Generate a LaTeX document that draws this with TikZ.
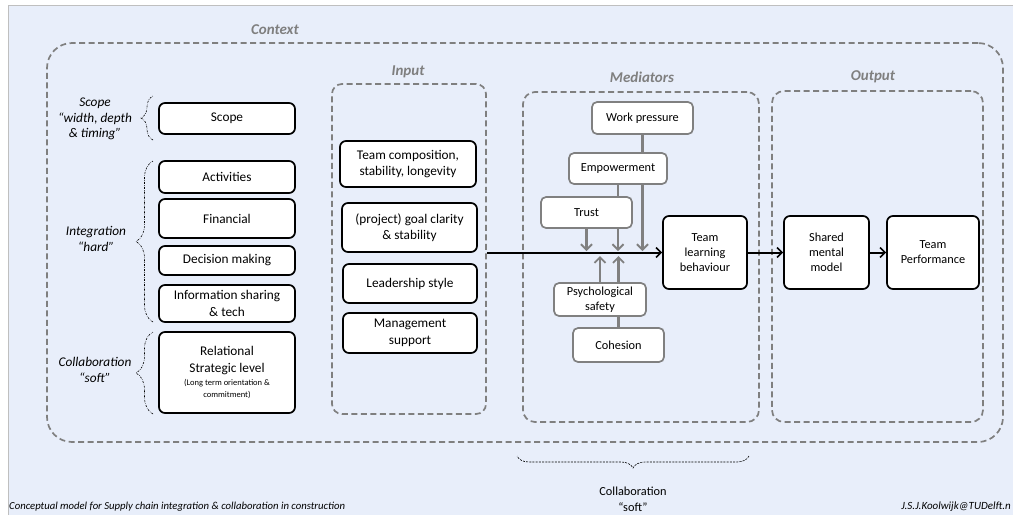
\documentclass[tikz,border=0pt]{standalone}
\usepackage{fontspec}
\setmainfont{Carlito}
\usetikzlibrary{arrows.meta,decorations.pathreplacing}
\definecolor{bg}{HTML}{E8EEFA}
\definecolor{dgray}{HTML}{7F7F7F}
\definecolor{mgray}{HTML}{808080}
\definecolor{edge}{HTML}{BFBFBF}
\begin{document}
\begin{tikzpicture}[x=1pt,y=-1pt,
  blackbox/.style={draw=black, line width=1.7pt, fill=white, rounded corners=6pt, align=center,
    font=\fontsize{13.3}{16.5}\selectfont, inner sep=0pt},
  graybox/.style={draw=mgray, line width=1.7pt, fill=white, rounded corners=5pt, align=center,
    font=\fontsize{12.3}{14.5}\selectfont, inner sep=0pt},
  frame/.style={draw=dgray, line width=1.7pt, dash pattern=on 6pt off 3.5pt, inner sep=0pt},
  title/.style={text=dgray, font=\bfseries\itshape\fontsize{15}{17}\selectfont},
  sidelabel/.style={align=center, font=\itshape\fontsize{13.3}{15.8}\selectfont},
  bracedeco/.style={decorate, decoration={brace, amplitude=#1}, line width=0.6pt,
    dash pattern=on 2pt off 1.2pt on 0.5pt off 1.2pt},
  mainarrow/.style={draw=black, line width=2pt, -{Straight Barb[length=5pt,width=10pt,line width=1.6pt]}},
  grayarrow/.style={draw=mgray, line width=2.3pt, -{Straight Barb[length=5.5pt,width=11pt,line width=1.9pt]}},
  grayline/.style={draw=mgray, line width=2.3pt},
]
\useasboundingbox (0,0) rectangle (1013,515);
% background
\fill[white] (0,0) rectangle (1013,515);
\fill[bg] (8,5) rectangle (1013,515);
\draw[edge, line width=1pt] (8,515) -- (8,5) -- (1013,5);

% frames
\node[frame, rounded corners=25pt, minimum width=956pt, minimum height=399pt] (context) at (525,242.5) {};
\node[title] (contextlbl) at (275,30) {Context};
\node[frame, rounded corners=10pt, fill=bg, minimum width=154pt, minimum height=330pt] (inframe) at (409,249) {};
\node[title] (inlbl) at (408,72) {Input};
\node[frame, rounded corners=12pt, fill=bg, minimum width=236pt, minimum height=330pt] (medframe) at (641,257) {};
\node[title] (medlbl) at (642,77) {Mediators};
\node[frame, rounded corners=12pt, fill=bg, minimum width=211pt, minimum height=331pt] (outframe) at (877.5,256.5) {};
\node[title] (outlbl) at (873,77) {Output};

% left column
\node[blackbox, minimum width=136pt, minimum height=31pt] (scope) at (227,118.5) {Scope};
\node[blackbox, minimum width=136pt, minimum height=32pt] (act) at (227,177) {Activities};
\node[blackbox, minimum width=136pt, minimum height=39pt] (fin) at (227,218.5) {Financial};
\node[blackbox, minimum width=136pt, minimum height=29pt] (dec) at (227,260.5) {Decision making};
\node[blackbox, minimum width=136pt, minimum height=37pt] (info) at (227,303.5) {Information sharing\\\& tech};
\node[blackbox, minimum width=136pt, minimum height=81pt] (rel) at (227,372.5)
  {Relational\\Strategic level\\[-3pt]{\fontsize{8.5}{10}\selectfont (Long term orientation \&}\\[-5pt]{\fontsize{8.5}{10}\selectfont commitment)}};

% side labels and braces
\node[sidelabel] (scopelbl) at (95,119) {Scope\\“width, depth\\\& timing”};
\node[sidelabel] (intlbl) at (96,239) {Integration\\“hard”};
\node[sidelabel] (collbl) at (95,370) {Collaboration\\“soft”};
\coordinate (b1s) at (153,140); \coordinate (b1e) at (153,96);
\coordinate (b2s) at (153,322); \coordinate (b2e) at (153,161);
\coordinate (b3s) at (153,414); \coordinate (b3e) at (153,332);
\draw[bracedeco=12pt] (b1s) -- (b1e);
\draw[bracedeco=17pt] (b2s) -- (b2e);
\draw[bracedeco=17pt] (b3s) -- (b3e);

% input column
\node[blackbox, minimum width=136pt, minimum height=46pt] (team) at (408,164) {Team composition,\\stability, longevity};
\node[blackbox, minimum width=135pt, minimum height=49pt] (goal) at (409.5,227.5) {(project) goal clarity\\\& stability};
\node[blackbox, minimum width=134pt, minimum height=39pt] (lead) at (410,283.5) {Leadership style};
\node[blackbox, minimum width=134pt, minimum height=40pt] (mgmt) at (410,333) {Management\\support};

% mediators
\node[graybox, minimum width=101pt, minimum height=32pt] (wp) at (642.5,118) {Work pressure};
\node[graybox, minimum width=98pt, minimum height=31pt] (emp) at (618,168.5) {Empowerment};
\node[graybox, minimum width=91pt, minimum height=31pt] (trust) at (586.5,212.5) {Trust};
\node[graybox, minimum width=92pt, minimum height=33pt] (psych) at (600,299.5) {Psychological\\safety};
\node[graybox, minimum width=91pt, minimum height=34pt] (coh) at (618.5,345) {Cohesion};
\node[blackbox, font=\fontsize{12.3}{15}\selectfont, minimum width=84pt, minimum height=73pt] (tlb) at (705,252.5) {Team\\learning\\behaviour};

% output
\node[blackbox, font=\fontsize{12.3}{15}\selectfont, minimum width=85pt, minimum height=73pt] (smm) at (826.5,252.5) {Shared\\mental\\model};
\node[blackbox, font=\fontsize{12.3}{15}\selectfont, minimum width=92pt, minimum height=73pt] (tp) at (933,252.5) {Team\\Performance};

% main arrows
\draw[mainarrow] (inframe.east |- tlb.west) -- (tlb.west);
\draw[mainarrow] (tlb.east) -- (smm.west);
\draw[mainarrow] (smm.east) -- (tp.west);

% gray connectors
\draw[grayline] (wp.south) -- (emp.north -| wp.south);
\draw[grayarrow, shorten >=1.5pt] (emp.south -| wp.south) -- (tlb.west -| wp.south);
\draw[grayline] (emp.south) -- (trust.north -| emp.south);
\draw[grayarrow, shorten >=1.5pt] (trust.south -| emp.south) -- (tlb.west -| emp.south);
\draw[grayarrow, shorten >=1.5pt] (trust.south) -- (tlb.west -| trust.south);
\draw[grayline] (coh.north) -- (psych.south -| coh.north);
\draw[grayarrow, shorten >=3.5pt] (psych.north -| coh.north) -- (tlb.west -| coh.north);
\draw[grayarrow, shorten >=3.5pt] (psych.north) -- (tlb.west -| psych.north);

% bottom brace
\coordinate (b4s) at (749,456); \coordinate (b4e) at (517,456);
\draw[bracedeco=12pt, dash pattern=on 2pt off 1.2pt] (b4s) -- (b4e);
\node[align=center, font=\fontsize{12.3}{16}\selectfont] (collsoft) at (633,499) {Collaboration\\“soft”};

% captions
\node[anchor=west, font=\itshape\fontsize{10.7}{12}\selectfont, inner sep=0pt] (cap) at (9,507) {Conceptual model for Supply chain integration \& collaboration in construction};
\node[anchor=east, font=\itshape\fontsize{11}{12}\selectfont, inner sep=0pt] (author) at (1011,507) {J.S.J.Koolwijk@TUDelft.n};
\end{tikzpicture}
\end{document}
